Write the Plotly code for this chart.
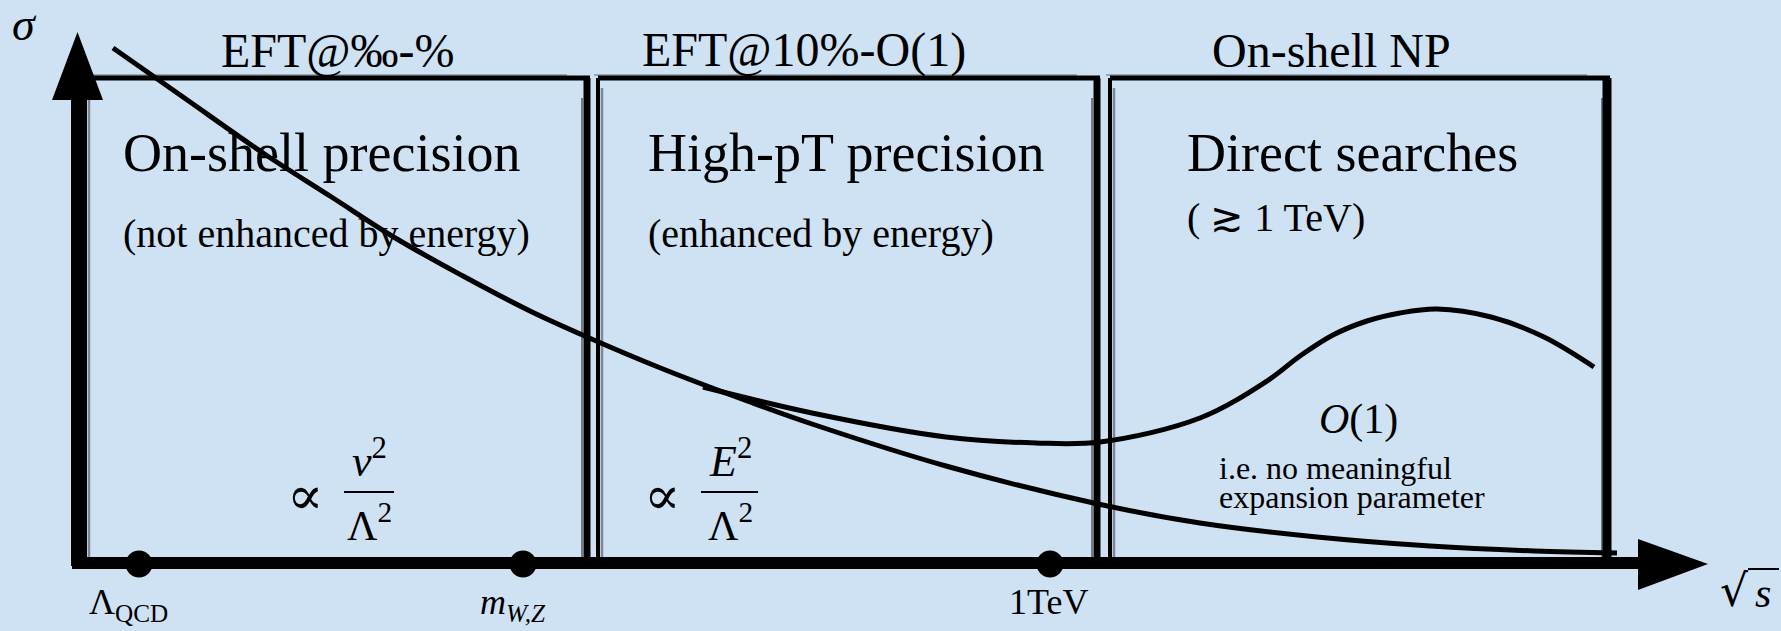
import plotly.graph_objects as go

W, H = 1781, 631
BG = "#cfe2f3"
INK = "#000000"
SERIF = "Liberation Serif, Times New Roman, serif"
MATH = "DejaVu Serif, Liberation Serif, serif"

# ---------------- data (schematic values) ----------------
region_titles = ["EFT@‰-%", "EFT@10%-O(1)", "On-shell NP"]
region_heads = ["On-shell precision", "High-pT precision", "Direct searches"]
region_notes = ["(not enhanced by energy)", "(enhanced by energy)", "( ≳ 1 TeV)"]
region_left = [85, 598, 1110]
region_right = [587, 1097, 1607]

scale_points = [139, 523, 1050]
scale_labels = ["Λ<sub>QCD</sub>", "<i>m</i><sub><i>W,Z</i></sub>", "1TeV"]

# falling cross-section (SM-like)
sm_x = [113, 183, 266, 330, 397, 463, 530, 587, 663, 750, 812, 946, 1098, 1200, 1317, 1430, 1535, 1617]
sm_y = [48, 97, 155, 196, 239, 276, 311, 337, 369, 402, 424, 466, 504, 523, 537, 546, 551, 553]

# new-physics branch with resonance bump
np_x = [703, 812, 946, 1036, 1100, 1200, 1267, 1300, 1333, 1367, 1400, 1437, 1491, 1544, 1594]
np_y = [387, 413, 437, 443, 442, 418, 381, 356, 335, 321, 313, 309, 317, 337, 367]

# ---------------- figure ----------------
fig = go.Figure()

fig.add_trace(go.Scatter(x=sm_x, y=sm_y, mode="lines",
                         line=dict(color=INK, width=5, shape="spline", smoothing=1.0),
                         hoverinfo="skip", showlegend=False))
fig.add_trace(go.Scatter(x=np_x, y=np_y, mode="lines",
                         line=dict(color=INK, width=5, shape="spline", smoothing=1.0),
                         hoverinfo="skip", showlegend=False))
fig.add_trace(go.Scatter(x=scale_points, y=[564] * len(scale_points), mode="markers",
                         marker=dict(color=INK, size=27, line=dict(width=0)),
                         hoverinfo="skip", showlegend=False))

shapes = []

def line(x0, y0, x1, y1, w, color=INK, layer="below"):
    shapes.append(dict(type="line", xref="x", yref="y", x0=x0, y0=y0, x1=x1, y1=y1,
                       line=dict(color=color, width=w), layer=layer))

TOP, BOT = 78, 562
for i, (l, r) in enumerate(zip(region_left, region_right)):
    # top edge (sketchy)
    line(l, TOP, r + 3, TOP, 5)
    line(l - 4, TOP - 3, r - 20, TOP - 3, 1.5, "rgba(0,0,0,0.35)")
    # left edge: thinner, rough
    line(l, TOP, l, BOT, 4)
    line(l + 4, TOP + 10, l + 4, BOT, 2.5, "rgba(0,0,0,0.4)")
    # right edge: heavier
    rw = 7 if i < 2 else 9
    line(r, TOP, r, BOT, rw)
    line(r - 5, TOP + 20, r - 5, BOT, 2, "rgba(0,0,0,0.45)")

# axes
line(77, 566, 77, 95, 12, layer="above")
line(72, 563, 1645, 563, 12, layer="above")
shapes.append(dict(type="path", xref="x", yref="y", path="M 52 100 L 103 100 L 77.5 32 Z",
                   fillcolor=INK, line=dict(width=0), layer="above"))
shapes.append(dict(type="path", xref="x", yref="y", path="M 1638 539 L 1638 590 L 1708 564 Z",
                   fillcolor=INK, line=dict(width=0), layer="above"))

# fraction bars
line(344, 492, 394, 492, 2, layer="above")
line(701, 492, 758, 492, 2, layer="above")
# sqrt overline
line(1748, 569, 1779, 569, 2, layer="above")

ann = []

def text(x, y, s, size, family=SERIF, xanchor="left", yanchor="middle"):
    ann.append(dict(x=x, y=y, xref="x", yref="y", text=s, showarrow=False,
                    xanchor=xanchor, yanchor=yanchor,
                    font=dict(family=family, size=size, color=INK)))

# region titles above boxes
title_cx = [338, 804, 1331]
for cx, t in zip(title_cx, region_titles):
    text(cx, 50, t, 48, xanchor="center")

head_x = [121, 646, 1185]
for hx, t in zip(head_x, region_heads):
    text(hx, 153, t, 54)
note_y = [233, 233, 217]
for hx, ny, t in zip(head_x, note_y, region_notes):
    text(hx, ny, t, 40)

# scale labels under axis
label_x = [87, 478, 1048]
label_anchor = ["left", "left", "center"]
for lx, la, t in zip(label_x, label_anchor, scale_labels):
    text(lx, 580, t, 36, xanchor=la, yanchor="top")

# axis labels
text(24, 24, "<i>σ</i>", 46, xanchor="center")
text(1718, 590, "√", 44, family=MATH)
text(1763, 593, "<i>s</i>", 42, xanchor="center")

# proportionality expressions
text(305, 495, "∝", 54, family=MATH, xanchor="center")
text(369, 458, "<i>v</i><sup>2</sup>", 44, xanchor="center")
text(369, 522, "Λ<sup>2</sup>", 42, xanchor="center")
text(662, 495, "∝", 54, family=MATH, xanchor="center")
text(730, 458, "<i>E</i><sup>2</sup>", 44, xanchor="center")
text(730, 522, "Λ<sup>2</sup>", 42, xanchor="center")

# O(1) region notes
text(1358, 419, "<i>O</i>(1)", 42, xanchor="center")
text(1217, 468, "i.e. no meaningful", 32)
text(1217, 497, "expansion parameter", 32)

fig.update_layout(
    width=W, height=H,
    margin=dict(l=0, r=0, t=0, b=0),
    paper_bgcolor=BG, plot_bgcolor=BG,
    xaxis=dict(range=[0, W], visible=False, fixedrange=True),
    yaxis=dict(range=[H, 0], visible=False, fixedrange=True),
    shapes=shapes, annotations=ann,
    showlegend=False,
)

fig.write_html(
    "out.html",
    config={"displayModeBar": False},
    post_script="document.body.style.margin='0';document.body.style.background='" + BG + "';"
                "document.body.style.overflow='hidden';",
)
